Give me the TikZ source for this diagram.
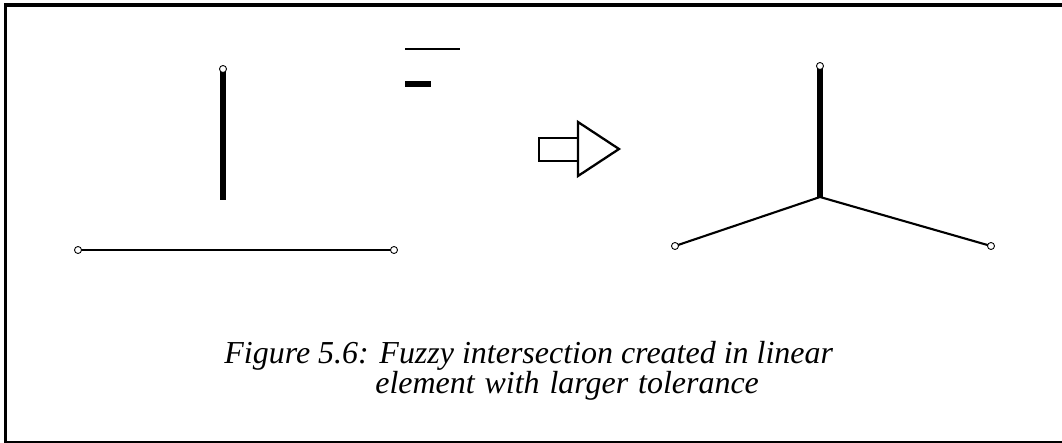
\documentclass[tikz,border=0pt]{standalone}
\usepackage{fontspec}
\setmainfont{Liberation Serif}
\usepackage{tikz}
\usetikzlibrary{calc}

\tikzset{
  thinline/.style={line width=1.2pt},
  thickline/.style={line width=3.7pt},
  endpoint/.style={circle, draw, fill=white, line width=0.5pt, inner sep=0pt, minimum size=4pt},
}

\begin{document}
\begin{tikzpicture}[x=0.02cm, y=-0.02cm]
\useasboundingbox (0,0) rectangle (1062,443);

% Frame
\draw[line width=2pt] (5.5,443) -- (5.5,5) -- (1062,5);
\draw[line width=1.2pt] (5.5,442.3) -- (1062,442.3);

% Before: two separate elements
\begin{scope}
\coordinate (vtop) at (223,69);
\coordinate (vbot) at (223,200);
\draw[thickline] (vtop) -- (vbot);
\node[endpoint] (vtopend) at (vtop) {};

\coordinate (hleft) at (78,250);
\coordinate (hright) at (394,250);
\draw[thinline] (hleft) -- (hright);
\node[endpoint] (hleftend) at (hleft) {};
\node[endpoint] (hrightend) at (hright) {};
\end{scope}

% Legend marks
\draw[line width=1.3pt] (405,49) -- (460,49);
\fill (405,80.5) rectangle (431,87);

% Arrow
\draw[line width=1.3pt, line join=miter] (578,138) -- (539,138) -- (539,161) -- (578,161);
\draw[line width=1.3pt, line join=miter] (578,122) -- (619,149) -- (578,176) -- cycle;

% After: fuzzy intersection
\begin{scope}
\coordinate (junction) at (820,197);
\coordinate (rtop) at (820,66);
\coordinate (rleft) at (675,246);
\coordinate (rright) at (991,246);
\draw[thinline] (rleft) -- (junction) -- (rright);
\draw[thickline] (rtop) -- (junction);
\node[endpoint] (rtopend) at (rtop) {};
\node[endpoint] (rleftend) at (rleft) {};
\node[endpoint] (rrightend) at (rright) {};
\end{scope}

% Caption
\node[font=\fontsize{18.2}{20}\selectfont\itshape, anchor=base west, inner sep=0pt] (caption1) at (224,363)
    {Figure 5.6: Fuzzy intersection created in linear};
\node[font=\fontsize{18.2}{20}\selectfont\itshape, anchor=base west, inner sep=0pt] (caption2) at (375,393)
    {\spaceskip=5.6pt element with larger tolerance};

\end{tikzpicture}
\end{document}
